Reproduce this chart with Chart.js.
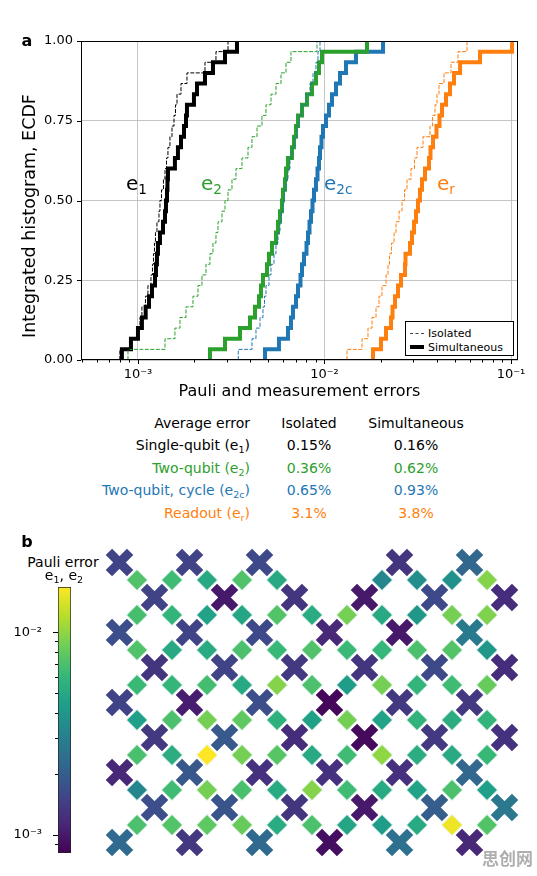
<!DOCTYPE html>
<html><head><meta charset="utf-8">
<script src="https://cdn.jsdelivr.net/npm/chart.js@4.4.0/dist/chart.umd.min.js"></script>
<style>
 body{margin:0;background:#fff;font-family:'DejaVu Sans',sans-serif;color:#000}
 #page{position:relative;width:537px;height:876px;overflow:hidden;background:#fff}
 canvas{position:absolute}
 .t{position:absolute;white-space:nowrap;line-height:1}
 sub{font-size:0.68em;vertical-align:-0.3em;line-height:0}
 #legend{position:absolute;left:405px;top:321px;width:107px;height:33px;border:1px solid #000;background:#fff;font-size:11px}
 #legend span{position:absolute;left:22px}
 #legend i{position:absolute;left:4px;width:14px}
</style></head><body><div id="page">
<canvas id="ecdf" width="537" height="410" style="left:0;top:0"></canvas>
<canvas id="lattice" width="420" height="315" style="left:102px;top:545px"></canvas>
<canvas id="cbar" width="80" height="280" style="left:0;top:580px"></canvas>
<div id="legend">
 <i style="top:11px;border-top:1px dashed #444"></i><span style="top:5px">Isolated</span>
 <i style="top:23px;border-top:4px solid #000"></i><span style="top:19px">Simultaneous</span>
</div>
</div>
<script>
// ---- panel a: ECDF of errors ----
const e1Isolated = [8.0e-4,9.17e-4,1.0e-3,1.025e-3,1.05e-3,1.097e-3,1.131e-3,1.174e-3,1.196e-3,1.211e-3,1.226e-3,1.241e-3,1.264e-3,1.296e-3,1.312e-3,1.337e-3,1.37e-3,1.396e-3,1.422e-3,1.448e-3,1.484e-3,1.522e-3,1.56e-3,1.589e-3,1.619e-3,1.701e-3,1.831e-3,2.287e-3,2.619e-3,3.039e-3];
const e1Simultaneous = [8.2e-4,9.17e-4,1.0e-3,1.05e-3,1.1e-3,1.146e-3,1.189e-3,1.234e-3,1.249e-3,1.264e-3,1.28e-3,1.312e-3,1.362e-3,1.396e-3,1.413e-3,1.431e-3,1.439e-3,1.448e-3,1.578e-3,1.638e-3,1.701e-3,1.765e-3,1.809e-3,1.831e-3,1.996e-3,2.072e-3,2.287e-3,2.524e-3,2.928e-3,3.395e-3];
const e2Isolated = [8.84e-4,1.396e-3,1.578e-3,1.68e-3,1.809e-3,1.972e-3,2.098e-3,2.204e-3,2.316e-3,2.432e-3,2.524e-3,2.619e-3,2.685e-3,2.821e-3,2.928e-3,3.039e-3,3.192e-3,3.354e-3,3.612e-3,3.89e-3,4.086e-3,4.346e-3,4.622e-3,4.857e-3,5.166e-3,5.494e-3,5.845e-3,6.217e-3,6.612e-3,9.118e-3];
const e2Simultaneous = [2.432e-3,2.928e-3,3.523e-3,3.986e-3,4.24e-3,4.455e-3,4.566e-3,4.68e-3,4.918e-3,5.04e-3,5.23e-3,5.494e-3,5.632e-3,5.772e-3,5.917e-3,5.99e-3,6.14e-3,6.217e-3,6.372e-3,6.694e-3,6.862e-3,7.034e-3,7.21e-3,7.575e-3,8.057e-3,8.57e-3,9.003e-3,9.343e-3,9.696e-3,1.69e-2];
const e2cIsolated = [3.45e-3,4.086e-3,4.292e-3,4.51e-3,4.68e-3,4.77e-3,4.857e-3,5.04e-3,5.166e-3,5.36e-3,5.494e-3,5.632e-3,5.772e-3,5.88e-3,5.99e-3,6.1e-3,6.217e-3,6.372e-3,6.531e-3,6.694e-3,6.905e-3,7.121e-3,7.3e-3,7.575e-3,7.957e-3,8.36e-3,8.676e-3,9.003e-3,9.229e-3,9.461e-3];
const e2cSimultaneous = [4.8e-3,5.7e-3,6.372e-3,6.612e-3,6.777e-3,7.034e-3,7.21e-3,7.435e-3,7.575e-3,7.764e-3,8.008e-3,8.157e-3,8.31e-3,8.465e-3,8.624e-3,8.784e-3,9.003e-3,9.173e-3,9.343e-3,9.461e-3,9.637e-3,9.817e-3,1.019e-2,1.057e-2,1.097e-2,1.153e-2,1.211e-2,1.304e-2,1.475e-2,2.06e-2];
const erIsolated = [1.32e-2,1.589e-2,1.711e-2,1.798e-2,1.889e-2,1.96e-2,2.034e-2,2.137e-2,2.191e-2,2.232e-2,2.288e-2,2.36e-2,2.419e-2,2.51e-2,2.604e-2,2.685e-2,2.769e-2,2.909e-2,3.038e-2,3.133e-2,3.375e-2,3.679e-2,3.795e-2,3.914e-2,4.01e-2,4.111e-2,4.373e-2,4.768e-2,5.197e-2,5.808e-2];
const erSimultaneous = [1.82e-2,2.009e-2,2.137e-2,2.274e-2,2.316e-2,2.388e-2,2.478e-2,2.572e-2,2.701e-2,2.718e-2,2.873e-2,2.945e-2,3.019e-2,3.094e-2,3.171e-2,3.25e-2,3.332e-2,3.458e-2,3.633e-2,3.701e-2,3.817e-2,3.985e-2,4.136e-2,4.266e-2,4.482e-2,4.709e-2,4.947e-2,5.33e-2,6.82e-2,1.013e-1];

const xMajorTicks = [1e-3, 1e-2, 1e-1];
const xTickLabels = ['10⁻³', '10⁻²', '10⁻¹'];
const yTicks = [0, 0.25, 0.5, 0.75, 1];

// ---- average error table ----
const tableHead = ['Average error', 'Isolated', 'Simultaneous'];
const tableRows = ['Single-qubit (e<sub>1</sub>)', 'Two-qubit (e<sub>2</sub>)', 'Two-qubit, cycle (e<sub>2c</sub>)', 'Readout (e<sub>r</sub>)'];
const avgIsolated = ['0.15%', '0.36%', '0.65%', '3.1%'];
const avgSimultaneous = ['0.16%', '0.62%', '0.93%', '3.8%'];

// ---- panel b: per-qubit e1 (rows of the lattice) and per-coupler e2 (bands between rows) ----
const qubitRows = [
  [1.5e-3, 1.5e-3, 1.6e-3, null, 1.3e-3, 2.2e-3],
  [1.5e-3, 1.0e-3, 1.3e-3, 1.0e-3, 1.6e-3, 1.2e-3],
  [1.7e-3, 1.5e-3, 1.6e-3, 1.15e-3, 1.0e-3, 2.8e-3],
  [1.3e-3, 1.5e-3, 1.35e-3, 1.3e-3, 1.6e-3, 1.2e-3],
  [1.5e-3, 1.05e-3, 1.7e-3, 8.6e-4, 1.35e-3, 1.35e-3],
  [1.35e-3, 1.9e-3, 1.2e-3, 8.8e-4, 1.35e-3, 1.25e-3],
  [1.15e-3, 1.85e-3, 1.25e-3, 1.25e-3, 1.25e-3, 2.2e-3],
  [1.7e-3, 1.8e-3, 1.3e-3, 1.0e-3, 2.0e-3, 2.7e-3],
  [2.3e-3, 1.35e-3, 2.3e-3, 9.2e-4, 2.5e-3, 1.15e-3]
];
const couplerRows = [
  [7.2e-3, 6.5e-3, 5.0e-3, 7.2e-3, 5.0e-3, null, null, 3.3e-3, 3.6e-3, 3.7e-3, 9.5e-3],
  [6.8e-3, 5.9e-3, 4.6e-3, 4.8e-3, 7.3e-3, 5.2e-3, 8.8e-3, 5.0e-3, 4.0e-3, 8.8e-3, 9.2e-3],
  [7.2e-3, 5.0e-3, 5.1e-3, 7.0e-3, 6.2e-3, 7.2e-3, 6.3e-3, 6.1e-3, 7.0e-3, 7.3e-3, 4.0e-3],
  [6.3e-3, 6.0e-3, 6.7e-3, 5.0e-3, 9.5e-3, 7.0e-3, 4.3e-3, 8.8e-3, 5.9e-3, 6.5e-3, 8.2e-3],
  [4.4e-3, 7.0e-3, 8.8e-3, 7.8e-3, 5.6e-3, 4.5e-3, 8.8e-3, 4.6e-3, 5.8e-3, 5.3e-3, 5.9e-3],
  [6.9e-3, 5.3e-3, 1.67e-2, 8.8e-3, 7.5e-3, 5.0e-3, 6.5e-3, 1.0e-2, 5.3e-3, 5.1e-3, 6.2e-3],
  [3.3e-3, 6.5e-3, 8.8e-3, 6.9e-3, 5.1e-3, 9.5e-3, 6.5e-3, 5.1e-3, 4.6e-3, 7.0e-3, 4.4e-3],
  [7.0e-3, 7.3e-3, 7.8e-3, 8.2e-3, 5.2e-3, 7.0e-3, 4.8e-3, 4.3e-3, 5.1e-3, 1.55e-2, 7.3e-3]
];
const cMin = 8.15e-4, cMax = 1.67e-2;
const cbMajorTicks = [1e-3, 1e-2];
const cbTickLabels = ['10⁻³', '10⁻²'];
const viridis = ['#440154','#482878','#3e4989','#31688e','#26828e','#1f9e89','#35b779','#6ece58','#b5de2b','#fde725'];

// ---------------------------------------------------------------
Chart.defaults.font.family = "'DejaVu Sans', sans-serif";
Chart.defaults.color = '#000';
Chart.defaults.animation = false;
Chart.defaults.responsive = false;
Chart.defaults.plugins.legend.display = false;
Chart.defaults.plugins.tooltip.enabled = false;

const page = document.getElementById('page');
const isDecade = v => v > 0 && Math.abs(Math.log10(v) - Math.round(Math.log10(v))) < 1e-9;
const minorTicks = (lo, hi) => {
  const out = [];
  for (let d = Math.floor(Math.log10(lo)); d <= Math.ceil(Math.log10(hi)); d++)
    for (let m = 1; m < 10; m++) { const v = m * Math.pow(10, d); if (v >= lo && v <= hi) out.push(v); }
  return out;
};
const labelFor = (v, majors, labels) => { const i = majors.findIndex(m => Math.abs(Math.log10(m) - Math.log10(v)) < 1e-9); return i < 0 ? '' : labels[i]; };
const noPad = s => { s.paddingTop = 0; s.paddingBottom = 0; s.paddingLeft = 0; s.paddingRight = 0; };

function addText(html, x, y, align, css){
  const d = document.createElement('div');
  d.className = 't'; d.innerHTML = html;
  d.style.left = x + 'px'; d.style.top = y + 'px';
  const tx = align === 'c' ? '-50%' : align === 'r' ? '-100%' : '0';
  d.style.transform = `translate(${tx},-50%)`;
  Object.assign(d.style, css || {});
  page.appendChild(d);
  return d;
}

// ticks + frame drawn with the scales' own pixel mapping
const tickMarks = {
  id: 'tickMarks',
  afterDraw(chart, args, o){
    const {ctx, chartArea: a} = chart;
    ctx.save(); ctx.strokeStyle = '#000'; ctx.lineWidth = 1;
    if (o.frame) ctx.strokeRect(Math.round(a.left) + 0.5, Math.round(a.top) + 0.5, Math.round(a.right - a.left) - 1, Math.round(a.bottom - a.top) - 1);
    (o.axes || []).forEach(id => {
      const s = chart.scales[id], log = s.type === 'logarithmic';
      s.ticks.forEach(t => {
        const len = (!log || isDecade(t.value)) ? o.major : o.minor;
        const p = Math.round(s.getPixelForValue(t.value)) + 0.5;
        ctx.beginPath();
        if (s.isHorizontal()) { ctx.moveTo(p, a.bottom); ctx.lineTo(p, a.bottom + len); }
        else { ctx.moveTo(a.left, p); ctx.lineTo(a.left - len, p); }
        ctx.stroke();
      });
    });
    ctx.restore();
  }
};
Chart.register(tickMarks);

// ---- panel a ----
const ecdf = vals => {
  const s = [...vals].sort((a, b) => a - b), n = s.length;
  return [{x: s[0], y: 0}, ...s.map((v, i) => ({x: v, y: (i + 1) / n}))];
};
const curves = [
  {vals: e1Isolated, color: '#000000', thin: true},
  {vals: e2Isolated, color: '#2ca02c', thin: true},
  {vals: e2cIsolated, color: '#1f77b4', thin: true},
  {vals: erIsolated, color: '#ff7f0e', thin: true},
  {vals: e1Simultaneous, color: '#000000'},
  {vals: e2Simultaneous, color: '#2ca02c'},
  {vals: e2cSimultaneous, color: '#1f77b4'},
  {vals: erSimultaneous, color: '#ff7f0e'}
];
const xMin = 4.95e-4, xMax = 0.109;
new Chart(document.getElementById('ecdf'), {
  type: 'line',
  data: { datasets: curves.map(c => ({
    data: ecdf(c.vals), borderColor: c.color, borderWidth: c.thin ? 1 : 4,
    borderDash: c.thin ? [4, 1.5] : [], stepped: true, pointRadius: 0, fill: false
  })) },
  options: {
    layout: { autoPadding: false, padding: { left: 0, right: 19, top: 41, bottom: 0 } },
    plugins: { tickMarks: { frame: true, axes: ['x', 'y'], major: 4, minor: 2.5 } },
    scales: {
      x: { type: 'logarithmic', min: xMin, max: xMax,
        afterBuildTicks: s => { s.ticks = minorTicks(xMin, xMax).map(v => ({value: v})); },
        afterFit: s => { s.height = 50; noPad(s); },
        border: { display: false },
        grid: { drawTicks: false, lineWidth: 0.8, color: c => c.tick && isDecade(c.tick.value) ? '#b8b8b8' : 'rgba(0,0,0,0)' },
        ticks: { autoSkip: false, maxRotation: 0, padding: 7, font: { size: 13 },
          callback: v => labelFor(v, xMajorTicks, xTickLabels) },
        title: { display: true, text: 'Pauli and measurement errors', font: { size: 16 }, padding: { top: 0, bottom: 9 } }
      },
      y: { min: 0, max: 1,
        afterBuildTicks: s => { s.ticks = yTicks.map(v => ({value: v})); },
        afterFit: s => { s.width = 81; noPad(s); },
        border: { display: false },
        grid: { drawTicks: false, lineWidth: 0.8, color: '#b8b8b8' },
        ticks: { padding: 8, font: { size: 13 }, callback: v => v.toFixed(2) }
      }
    }
  }
});

addText('a', 27, 41, 'c', { fontWeight: 'bold', fontSize: '16px' });
const yTitle = addText('Integrated histogram, ECDF', 30, 216, 'c', { fontSize: '17.5px' });
yTitle.style.transform = 'translate(-50%,-50%) rotate(-90deg)';
addText('e<sub>1</sub>', 126, 183, 'l', { fontSize: '20px', color: '#000' });
addText('e<sub>2</sub>', 201, 183, 'l', { fontSize: '20px', color: '#2ca02c' });
addText('e<sub>2c</sub>', 324, 183, 'l', { fontSize: '20px', color: '#1f77b4' });
addText('e<sub>r</sub>', 437, 183, 'l', { fontSize: '20px', color: '#ff7f0e' });

// ---- table ----
const rowColors = ['#000', '#2ca02c', '#1f77b4', '#ff7f0e'];
const rowY = [423, 445, 468, 490, 513];
addText(tableHead[0], 250, rowY[0], 'r', { fontSize: '14px' });
addText(tableHead[1], 309, rowY[0], 'c', { fontSize: '14px' });
addText(tableHead[2], 416, rowY[0], 'c', { fontSize: '14px' });
tableRows.forEach((r, i) => {
  const css = { fontSize: '14px', color: rowColors[i] };
  addText(r, 250, rowY[i + 1], 'r', css);
  addText(avgIsolated[i], 309, rowY[i + 1], 'c', css);
  addText(avgSimultaneous[i], 416, rowY[i + 1], 'c', css);
});

// ---- panel b ----
const hexRgb = h => [1, 3, 5].map(i => parseInt(h.slice(i, i + 2), 16));
const colorFor = v => {
  let t = (Math.log10(v) - Math.log10(cMin)) / (Math.log10(cMax) - Math.log10(cMin));
  t = Math.min(1, Math.max(0, t)) * (viridis.length - 1);
  const i = Math.min(viridis.length - 2, Math.floor(t)), f = t - i;
  const a = hexRgb(viridis[i]), b = hexRgb(viridis[i + 1]);
  return `rgb(${a.map((c, k) => Math.round(c + (b[k] - c) * f)).join(',')})`;
};
const qubitPts = [];
qubitRows.forEach((row, i) => row.forEach((v, k) => { if (v != null) qubitPts.push({x: (i % 2) + 2 * k, y: i, v}); }));
const couplerPts = [];
couplerRows.forEach((row, b) => row.forEach((v, k) => { if (v != null) couplerPts.push({x: k + 0.5, y: b + 0.5, v}); }));

new Chart(document.getElementById('lattice'), {
  type: 'scatter',
  data: { datasets: [
    { data: qubitPts, pointStyle: 'crossRot', pointRadius: 15, pointBorderWidth: 9,
      pointBorderColor: c => colorFor(c.raw.v), pointBackgroundColor: c => colorFor(c.raw.v), clip: false },
    { data: couplerPts, pointStyle: 'rectRot', pointRadius: 10.5, pointBorderWidth: 1,
      pointBorderColor: '#e8f6f3', pointBackgroundColor: c => colorFor(c.raw.v), clip: false }
  ] },
  options: {
    layout: { autoPadding: false, padding: 0 },
    plugins: { tickMarks: false },
    scales: {
      x: { type: 'linear', min: -0.5, max: 11.5, display: false },
      y: { type: 'linear', min: -0.5, max: 8.5, reverse: true, display: false }
    }
  }
});

new Chart(document.getElementById('cbar'), {
  type: 'bar',
  data: { labels: [''], datasets: [{
    data: [[cMin, cMax]], barPercentage: 1, categoryPercentage: 1,
    borderColor: '#222', borderWidth: 1, borderSkipped: false,
    backgroundColor: c => {
      const a = c.chart.chartArea; if (!a) return viridis[0];
      const g = c.chart.ctx.createLinearGradient(0, a.bottom, 0, a.top);
      viridis.forEach((col, i) => g.addColorStop(i / (viridis.length - 1), col));
      return g;
    }
  }] },
  options: {
    layout: { autoPadding: false, padding: { left: 0, right: 9, top: 7, bottom: 7 } },
    plugins: { tickMarks: { axes: ['y'], major: 5, minor: 3 } },
    scales: {
      x: { display: false },
      y: { type: 'logarithmic', min: cMin, max: cMax,
        afterBuildTicks: s => { s.ticks = minorTicks(cMin, cMax).map(v => ({value: v})); },
        afterFit: s => { s.width = 58; noPad(s); },
        border: { display: false }, grid: { display: false },
        ticks: { autoSkip: false, padding: 8, font: { size: 13 },
          callback: v => labelFor(v, cbMajorTicks, cbTickLabels) }
      }
    }
  }
});

addText('b', 27, 542, 'c', { fontWeight: 'bold', fontSize: '16px' });
addText('Pauli error', 63, 562, 'c', { fontSize: '14px' });
addText('e<sub>1</sub>, e<sub>2</sub>', 64, 575, 'c', { fontSize: '14px' });
addText('思创网', 482, 857, 'l', { fontSize: '17px', fontWeight: 'bold', color: 'rgba(120,120,120,0.6)', fontFamily: "'Noto Sans CJK SC'" });
</script></body></html>
